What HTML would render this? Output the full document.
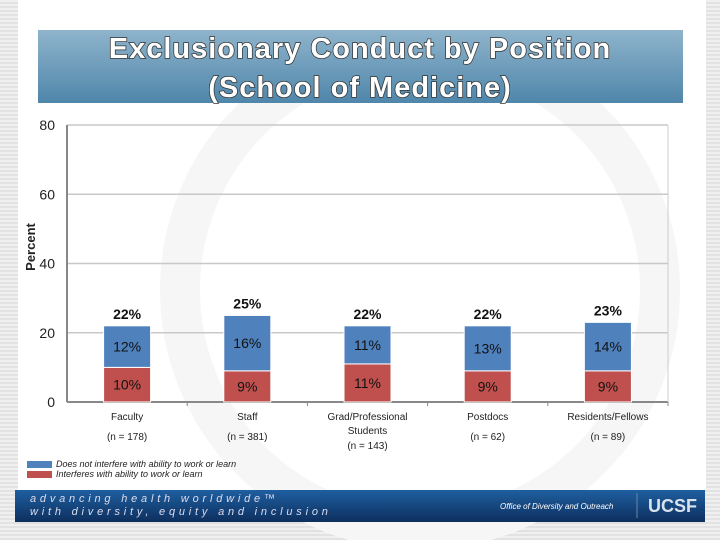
<!DOCTYPE html>
<html><head><meta charset="utf-8"><style>
body{margin:0;width:720px;height:540px;overflow:hidden;font-family:"Liberation Sans",sans-serif;background:repeating-linear-gradient(#f0f0f0 0 2px,#e2e2e2 2px 4px);}
</style></head><body>
<svg width="720" height="540" xmlns="http://www.w3.org/2000/svg" style="position:absolute;left:0;top:0">
<defs>
<linearGradient id="tg" x1="0" y1="0" x2="0" y2="1"><stop offset="0" stop-color="#8fb4cc"/><stop offset="1" stop-color="#4f86aa"/></linearGradient>
<linearGradient id="fg" x1="0" y1="0" x2="0" y2="1"><stop offset="0" stop-color="#1f5fa0"/><stop offset="1" stop-color="#0d2f5e"/></linearGradient>
</defs>
<rect x="18" y="0" width="688" height="490" fill="#ffffff"/>
<circle cx="420" cy="290" r="240" fill="none" stroke="#f6f6f6" stroke-width="40"/>
<rect x="38" y="30" width="645" height="73" fill="url(#tg)"/>
<g font-size="29" font-weight="bold" text-anchor="middle" fill="#fff" style="paint-order:stroke" stroke="#333" stroke-width="1.5" letter-spacing="1">
<text x="360" y="58">Exclusionary Conduct by Position</text>
<text x="360" y="97">(School of Medicine)</text></g>
<text transform="translate(35,247) rotate(-90)" text-anchor="middle" font-size="13" font-weight="bold" fill="#222">Percent</text>
<g id="grid"></g><g id="bars"></g>
<g font-size="9" font-style="italic" fill="#222">
<rect x="27" y="461" width="25" height="7" fill="#4f81bd"/><text x="56" y="467">Does not interfere with ability to work or learn</text>
<rect x="27" y="471" width="25" height="7" fill="#c0504d"/><text x="56" y="477">Interferes with ability to work or learn</text></g>
<rect x="15" y="490" width="690" height="32" fill="url(#fg)"/>
<g font-size="11" font-style="italic" fill="#dde" letter-spacing="3.8">
<text x="30" y="502">advancing health worldwide™</text><text x="30" y="515">with diversity, equity and inclusion</text></g>
<text x="500" y="509" font-size="8" font-style="italic" fill="#fff">Office of Diversity and Outreach</text>
<line x1="637" y1="493" x2="637" y2="518" stroke="#6a88aa"/>
<text x="648" y="512" font-size="18" font-weight="bold" fill="#d8e2ee">UCSF</text>
</svg>
<script>
const categories=["Faculty","Staff","Grad/Professional|Students","Postdocs","Residents/Fellows"];
const nLabels=["(n = 178)","(n = 381)","(n = 143)","(n = 62)","(n = 89)"];
const interferes=[10,9,11,9,9];
const notInterfere=[12,16,11,13,14];
const totals=[22,25,22,22,23];
const yTicks=[0,20,40,60,80];
const NS="http://www.w3.org/2000/svg";
const x0=67,x1=668,yb=402,sc=(402-125)/80;
const y=v=>yb-v*sc, xc=i=>x0+(x1-x0)/categories.length*(i+0.5);
function mk(t,a,p,txt){const e=document.createElementNS(NS,t);for(const k in a)e.setAttribute(k,a[k]);if(txt!=null)e.textContent=txt;p.appendChild(e);return e;}
const g=document.getElementById('grid'),b=document.getElementById('bars');
yTicks.forEach(v=>{
 const l=mk('line',{x1:x0,x2:x1,y1:y(v),y2:y(v),stroke:v?'#c8c8c8':'#888','stroke-width':v?1.5:2},g);
 
 
 const t=mk('text',{x:55,y:y(v)+5,'text-anchor':'end','font-size':14,fill:'#222'},g,v);
 
 
});
mk('line',{x1:x0,x2:x0,y1:y(80),y2:yb,stroke:'#888','stroke-width':2},g);
mk('line',{x1:x1,x2:x1,y1:y(80),y2:yb,stroke:'#ccc','stroke-width':1},g);
const bw=47;
categories.forEach((c,i)=>{
 const cx=xc(i);
 const r=mk('rect',{x:cx-bw/2,y:y(interferes[i]),width:bw,height:interferes[i]*sc,fill:'#c0504d',stroke:'#fff','stroke-width':1},b);
 
 
 const r2=mk('rect',{x:cx-bw/2,y:y(interferes[i]+notInterfere[i]),width:bw,height:notInterfere[i]*sc,fill:'#4f81bd',stroke:'#fff','stroke-width':1},b);
 
 
 const t1=mk('text',{x:cx,y:y(interferes[i]/2)+5,'text-anchor':'middle','font-size':14,fill:'#111'},b,interferes[i]+'%');
 
 
 const t2=mk('text',{x:cx,y:y(interferes[i]+notInterfere[i]/2)+5,'text-anchor':'middle','font-size':14,fill:'#111'},b,notInterfere[i]+'%');
 
 
 const t3=mk('text',{x:cx,y:y(interferes[i]+notInterfere[i])-7,'text-anchor':'middle','font-size':14,'font-weight':'bold',fill:'#111'},b,totals[i]+'%');
 
 
 mk('line',{x1:x0+(x1-x0)/5*(i+1),x2:x0+(x1-x0)/5*(i+1),y1:yb,y2:yb+4,stroke:'#888'},b);
 c.split('|').forEach((s,k)=>{
  const ct=mk('text',{x:cx,y:420+k*14,'text-anchor':'middle','font-size':10,fill:'#222'},b,s);
  
  
 });
 const n=mk('text',{x:cx,y:c.includes('|')?449:440,'text-anchor':'middle','font-size':10,fill:'#222'},b,nLabels[i]);
 
 
});
</script>
</body></html>
